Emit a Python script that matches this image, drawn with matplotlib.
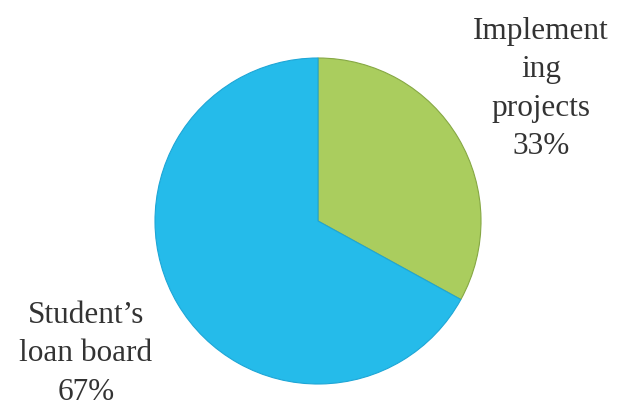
import matplotlib
matplotlib.use("Agg")
import matplotlib.pyplot as plt

labels = ["Implement\ning\nprojects", "Student\u2019s\nloan board"]
values = [33, 67]
colors = ["#aacd5e", "#25bbea"]

fig = plt.figure(figsize=(6.22, 4.10), dpi=100)
ax = fig.add_axes([0, 0, 1, 1])

wedges, _ = ax.pie(values, colors=colors, startangle=90, counterclock=False,
                   center=(318, 188), radius=163, frame=True,
                   wedgeprops=dict(edgecolor="#86a844", linewidth=0.8))
wedges[1].set_edgecolor("#1ea6d6")
ax.set_xlim(0, 622)
ax.set_ylim(0, 410)
ax.set_aspect("equal")
ax.axis("off")

font = dict(family=["Liberation Serif", "DejaVu Serif"], fontsize=22.5, color="#333333",
            ha="center", va="center", linespacing=1.42)
ax.text(541, 321, f"{labels[0]}\n{values[0]}%", **font)
ax.text(86, 56, f"{labels[1]}\n{values[1]}%", **font)

fig.savefig("out.png", dpi=100)
